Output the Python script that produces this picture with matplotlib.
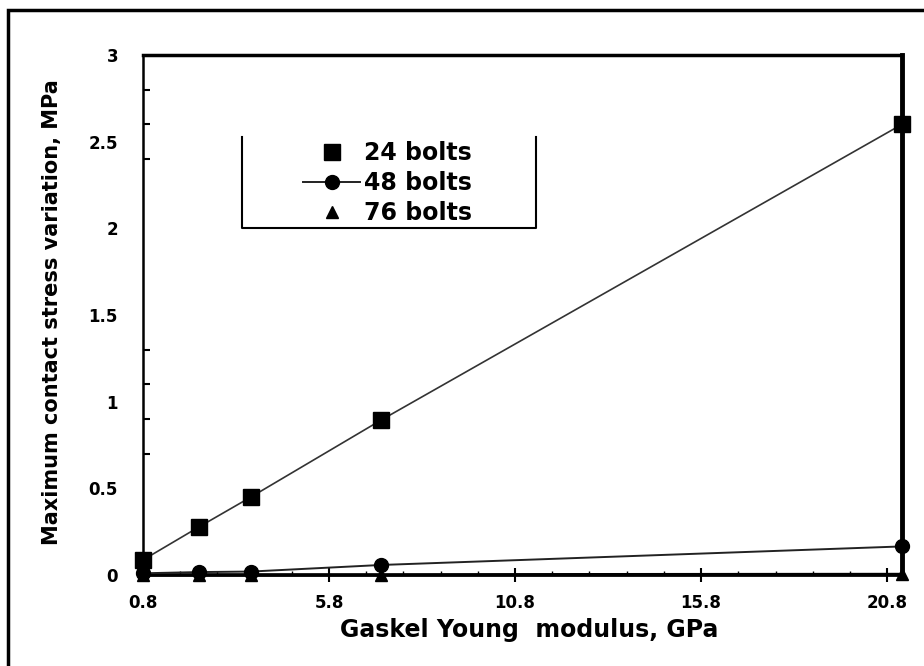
import matplotlib.pyplot as plt
import numpy as np
from matplotlib.lines import Line2D
from matplotlib.patches import Rectangle
from matplotlib.ticker import FixedLocator

# gasket Young modulus (GPa) and max contact stress variation (MPa)
modulus = [0.8, 2.3, 3.7, 7.2, 21.2]
bolts_24 = [0.087, 0.277, 0.45, 0.894, 2.6]
bolts_48 = [0.01, 0.017, 0.02, 0.058, 0.165]
bolts_76 = [0.002, 0.002, 0.002, 0.002, 0.004]

x_ticks = [0.8, 5.8, 10.8, 15.8, 20.8]
y_ticks = [0, 0.5, 1, 1.5, 2, 2.5, 3]
y_tick_labels = ['0', '0.5', '1', '1.5', '2', '2.5', '3']

plt.rcParams['font.family'] = 'DejaVu Sans'
plt.rcParams['font.weight'] = 'bold'

fig = plt.figure(figsize=(9.24, 6.66), dpi=100)
ax = fig.add_axes([0.1548, 0.1366, 0.8214, 0.7808])

ax.plot(modulus, bolts_76, color='black', lw=2.2, marker='^', ms=9,
        label='76 bolts', clip_on=False, zorder=3)
ax.plot(modulus, bolts_48, color='#222222', lw=1.4, marker='o', ms=10,
        mfc='black', mec='black', label='48 bolts', clip_on=False, zorder=4)
ax.plot(modulus, bolts_24, color='#333333', lw=1.2, marker='s', ms=11,
        mfc='black', mec='black', label='24 bolts', clip_on=False, zorder=5)

ax.set_xlim(0.8, 21.2)
ax.set_ylim(0, 3)

# x ticks
ax.set_xticks(x_ticks)
ax.set_xticklabels([str(v) for v in x_ticks])
ax.set_xticks(np.arange(1.8, 21, 1.0), minor=True)
ax.tick_params(axis='x', which='major', direction='inout', length=10, width=1.5,
               labelsize=12, pad=9)
ax.tick_params(axis='x', which='minor', direction='in', length=3, width=1)

# y ticks: labels only on majors, crossing marks as minors
ax.set_yticks(y_ticks)
ax.set_yticklabels(y_tick_labels)
ax.yaxis.set_minor_locator(FixedLocator([0, 0.5, 1.5, 3]))
ax.tick_params(axis='y', which='major', length=0, labelsize=12, pad=18)
ax.tick_params(axis='y', which='minor', direction='inout', length=15, width=1.5)

# short inner ticks
sec = ax.secondary_yaxis('left')
sec.set_yticks([0.7, 0.9, 1.1, 1.3, 2.4, 2.6, 2.8])
sec.tick_params(direction='in', length=5, width=1.5, labelleft=False)
sec.spines['left'].set_visible(False)

ax.spines['left'].set_linewidth(1.8)
ax.spines['top'].set_linewidth(2.5)
ax.spines['right'].set_linewidth(3.5)
ax.spines['bottom'].set_linewidth(2)

ax.set_xlabel('Gaskel Young  modulus, GPa', fontsize=17, fontweight='bold')
ax.xaxis.set_label_coords(0.509, -0.083)
ax.set_ylabel('Maximum contact stress variation, MPa', fontsize=15,
              fontweight='bold')
ax.yaxis.set_label_coords(-0.107, 0.506)

# legend
handles, labels = ax.get_legend_handles_labels()
order = [2, 1, 0]
leg = ax.legend([handles[i] for i in order], [labels[i] for i in order],
                loc='center', bbox_to_anchor=(0.322, 0.754), frameon=False,
                prop={'size': 17, 'weight': 'bold'}, handlelength=2.4,
                handletextpad=0.15, labelspacing=0.25, borderpad=0)
leg.legend_handles[0].set_linestyle('None')
leg.legend_handles[2].set_linestyle('None')

# open-top box round the legend
ax.add_line(Line2D([0.1304, 0.1304, 0.5178, 0.5178], [0.842, 0.667, 0.667, 0.842],
                   transform=ax.transAxes, color='black', lw=1.5, clip_on=False))

# outer frame
fig.add_artist(Rectangle((8 / 924, -0.5), 2, 0.5 + (1 - 10 / 666), fill=False,
                         lw=2.5, edgecolor='black', transform=fig.transFigure))

fig.savefig('out.png', dpi=100)
